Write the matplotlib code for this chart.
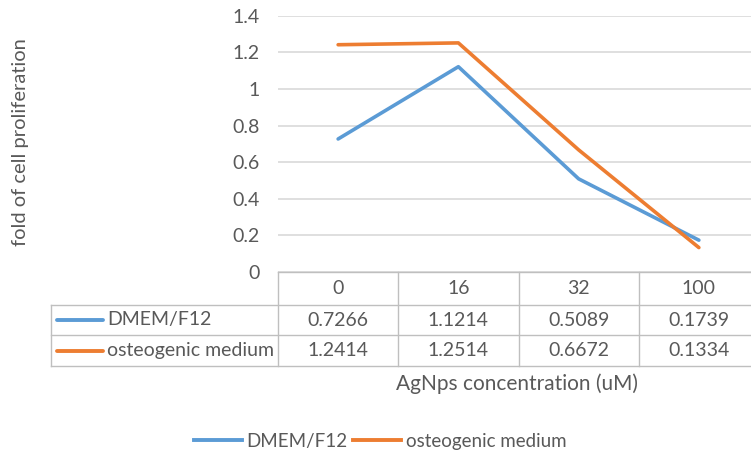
import matplotlib
matplotlib.use("Agg")
import matplotlib.pyplot as plt
from matplotlib.lines import Line2D

# Data
concentrations = ["0", "16", "32", "100"]
dmem_f12 = [0.7266, 1.1214, 0.5089, 0.1739]
osteogenic = [1.2414, 1.2514, 0.6672, 0.1334]
series_names = ["DMEM/F12", "osteogenic medium"]
y_ticks = [0, 0.2, 0.4, 0.6, 0.8, 1, 1.2, 1.4]
y_tick_labels = ["0", "0.2", "0.4", "0.6", "0.8", "1", "1.2", "1.4"]

BLUE = "#5B9BD5"
ORANGE = "#ED7D31"
TEXT = "#595959"
GRID = "#D9D9D9"
FONT = "Lato"

W, H = 751, 454
fig = plt.figure(figsize=(W / 100, H / 100), dpi=100)
plt.rcParams["font.family"] = [FONT, "DejaVu Sans"]

# pixel helpers
def fx(px):
    return px / W

def fy(py):
    return 1 - py / H

# layout in pixels
plot_left, plot_right = 278, 759
plot_top, plot_bottom = 15.7, 272
col_w = (plot_right - plot_left) / len(concentrations)
row_bottoms = [305, 335, 366]
label_left = 51

ax = fig.add_axes([fx(plot_left), fy(plot_bottom), fx(plot_right - plot_left), (plot_bottom - plot_top) / H])
ax.set_xlim(-0.5, len(concentrations) - 0.5)
ax.set_ylim(0, 1.4)
ax.set_yticks(y_ticks)
ax.set_yticklabels(y_tick_labels)
ax.tick_params(axis="y", length=0, pad=13, labelsize=14, labelcolor=TEXT)
ax.set_xticks([])
for s in ax.spines.values():
    s.set_visible(False)
ax.grid(axis="y", color=GRID, linewidth=1.2)
ax.set_axisbelow(True)
for vals, c in zip([dmem_f12, osteogenic], [BLUE, ORANGE]):
    ax.plot(range(len(vals)), vals, color=c, linewidth=2.6, solid_capstyle="round", clip_on=False)

# data table
ov = fig.add_axes([0, 0, 1, 1])
ov.set_xlim(0, W)
ov.set_ylim(H, 0)
ov.axis("off")
ov.patch.set_alpha(0)
lc = "#BFBFBF"
lw = 1.0
# horizontal borders
ov.plot([plot_left, W + 5], [plot_bottom, plot_bottom], color=lc, lw=lw)
for yb in row_bottoms:
    ov.plot([label_left, W + 5], [yb, yb], color=lc, lw=lw)
# vertical borders
ov.plot([label_left, label_left], [row_bottoms[0], row_bottoms[-1]], color=lc, lw=lw)
for i in range(len(concentrations) + 1):
    xv = plot_left + i * col_w
    ov.plot([xv, xv], [plot_bottom, row_bottoms[-1]], color=lc, lw=lw)

fs = 14
for i, cat in enumerate(concentrations):
    cx = plot_left + (i + 0.5) * col_w
    ov.text(cx, (plot_bottom + row_bottoms[0]) / 2, cat, ha="center", va="center", fontsize=fs, color=TEXT)
rows = [dmem_f12, osteogenic]
colors = [BLUE, ORANGE]
for r, (vals, c, name) in enumerate(zip(rows, colors, series_names)):
    top = row_bottoms[r]
    bot = row_bottoms[r + 1]
    yc = (top + bot) / 2
    ov.plot([57, 103], [yc, yc], color=c, lw=2.8, solid_capstyle="round")
    ov.text(107, yc, name, ha="left", va="center", fontsize=fs, color=TEXT)
    for i, v in enumerate(vals):
        cx = plot_left + (i + 0.5) * col_w
        ov.text(cx, yc, f"{v:.4f}", ha="center", va="center", fontsize=fs, color=TEXT)

# axis titles
ov.text(21, 142, "fold of cell proliferation", rotation=90, ha="center", va="center", fontsize=14.5, color=TEXT)
ov.text(517, 384, "AgNps concentration (uM)", ha="center", va="center", fontsize=15, color=TEXT)

# legend
handles = [Line2D([], [], color=c, lw=2.8) for c in colors]
fig.legend(handles, series_names, loc="center", bbox_to_anchor=(fx(380), fy(441)), ncol=2,
           frameon=False, fontsize=13.5, labelcolor=TEXT, handlelength=2.55, handletextpad=0.25,
           columnspacing=0.3)

fig.savefig("out.png", dpi=100)
